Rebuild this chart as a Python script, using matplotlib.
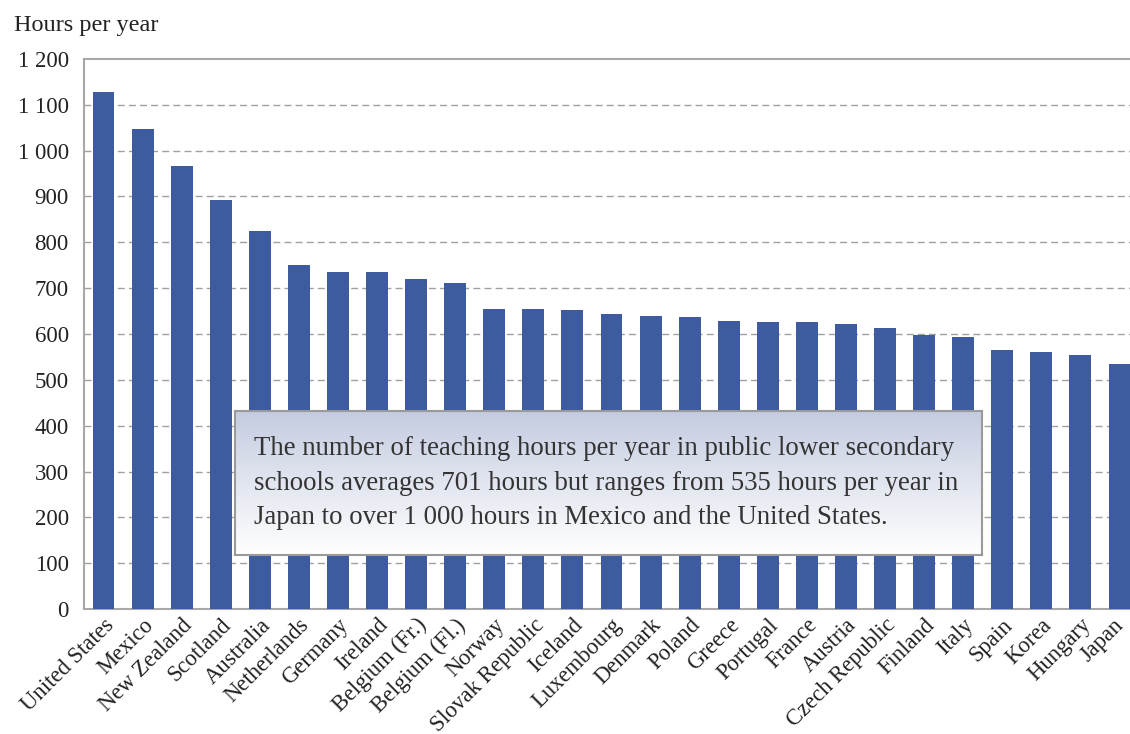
import numpy as np
import matplotlib.pyplot as plt
import matplotlib.transforms as mtransforms

# Data
countries = ['United States', 'Mexico', 'New Zealand', 'Scotland', 'Australia',
             'Netherlands', 'Germany', 'Ireland', 'Belgium (Fr.)', 'Belgium (Fl.)',
             'Norway', 'Slovak Republic', 'Iceland', 'Luxembourg', 'Denmark',
             'Poland', 'Greece', 'Portugal', 'France', 'Austria', 'Czech Republic',
             'Finland', 'Italy', 'Spain', 'Korea', 'Hungary', 'Japan']
hours = [1127, 1047, 967, 892, 825, 750, 735, 735, 720, 711,
         654, 654, 652, 644, 640, 637, 628, 626, 626, 622, 613,
         598, 594, 565, 561, 554, 535]
yticks = [0, 100, 200, 300, 400, 500, 600, 700, 800, 900, 1000, 1100, 1200]
ytick_labels = ['0', '100', '200', '300', '400', '500', '600', '700', '800',
                '900', '1 000', '1 100', '1 200']
note = ('The number of teaching hours per year in public lower secondary\n'
        'schools averages 701 hours but ranges from 535 hours per year in\n'
        'Japan to over 1 000 hours in Mexico and the United States.')

plt.rcParams['font.family'] = ['Liberation Serif', 'DejaVu Serif']

fig = plt.figure(figsize=(11.3, 7.34), dpi=100)
ax = fig.add_axes([84 / 1130, 125 / 734, 1055 / 1130, 550 / 734])

x = np.arange(len(countries))
ax.bar(x, hours, width=0.56, color='#3F5B9F', zorder=3)

ax.set_xlim(-0.5, len(countries) - 0.5)
ax.set_ylim(0, 1200)
ax.set_yticks(yticks)
ax.set_yticklabels(ytick_labels, fontsize=16.5, color='#222222')
ax.set_xticks(x)
ax.set_xticklabels(countries, rotation=45, ha='right', rotation_mode='anchor',
                   fontsize=16.3, color='#222222')
ax.tick_params(axis='y', length=0, pad=11)
ax.tick_params(axis='x', length=0, pad=4)

# last label sits at the right edge, nudge it in so it is not clipped
last = ax.get_xticklabels()[-1]
last.set_transform(last.get_transform() +
                   mtransforms.ScaledTranslation(-6 / 100, 0, fig.dpi_scale_trans))

for v in yticks[1:-1]:
    ax.axhline(v, color='#A0A0A0', linestyle=(0, (5, 3)), linewidth=1, zorder=1)

for side in ['left', 'top', 'bottom']:
    ax.spines[side].set_color('#A8A8A8')
    ax.spines[side].set_linewidth(1.5)
ax.spines['right'].set_visible(False)

fig.text(14 / 1130, 1 - 25 / 734, 'Hours per year', fontsize=17.5,
         color='#222222', va='center', ha='left')

# Annotation box with gradient
bx = fig.add_axes([235 / 1130, 179 / 734, 747 / 1130, 144 / 734])
grad = np.linspace(0, 1, 256).reshape(-1, 1)
top = np.array([0.77, 0.80, 0.88])
bottom = np.array([1.0, 1.0, 1.0])
img = top[None, None, :] * (1 - grad[:, :, None]) + bottom[None, None, :] * grad[:, :, None]
img = np.clip(img, 0, 1)
bx.imshow(img, aspect='auto', extent=[0, 1, 0, 1])
bx.set_xlim(0, 1)
bx.set_ylim(0, 1)
bx.set_xticks([])
bx.set_yticks([])
for s in bx.spines.values():
    s.set_color('#9A9A9A')
    s.set_linewidth(1.5)
bx.text(0.026, 0.5, note, fontsize=19.3, color='#333333', va='center', ha='left',
        linespacing=1.5)

fig.savefig('out.png', dpi=100)
